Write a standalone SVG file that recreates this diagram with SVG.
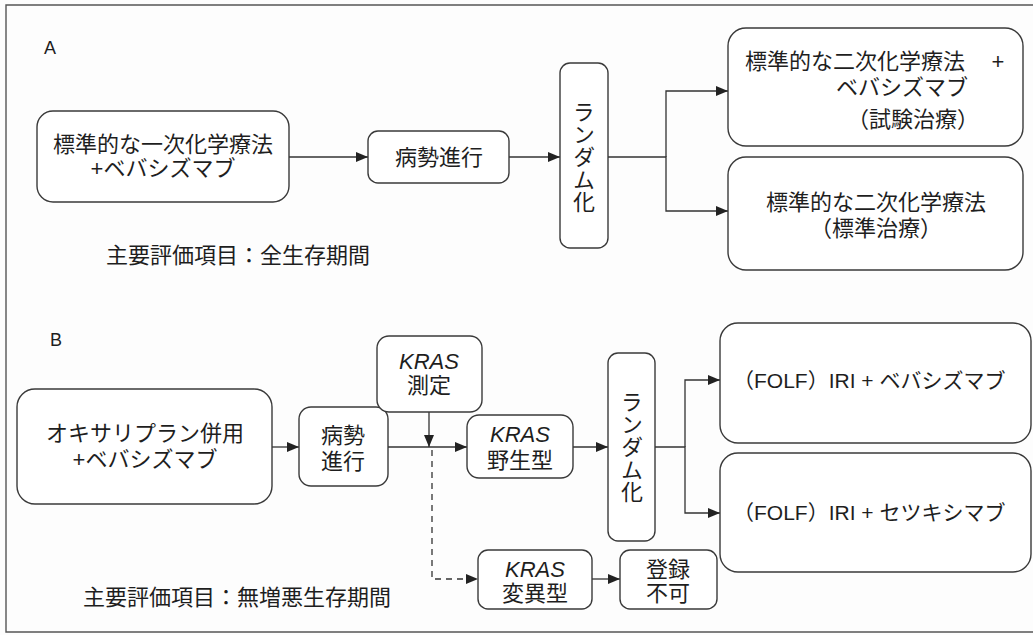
<svg xmlns="http://www.w3.org/2000/svg" width="1033" height="635" viewBox="0 0 1033 635">
<style>
.bg{fill:#fdfdfd}
.frame{fill:none;stroke:#555;stroke-width:1.4}
.box{fill:#fff;stroke:#3a3a3a;stroke-width:1.4}
.ln{fill:none;stroke:#333;stroke-width:1.3}
.dash{stroke-dasharray:6 5}
.t{font-family:"Liberation Sans","Noto Sans CJK JP",sans-serif;font-size:22px;fill:#1e1e1e;text-anchor:middle}
.v{font-family:"Noto Sans CJK JP",sans-serif;font-size:22px;fill:#1e1e1e;text-anchor:middle;writing-mode:vertical-rl;letter-spacing:0.6px}
.s{text-anchor:start}
.e{text-anchor:end}
.k{font-style:italic}
.lab{font-size:18px}
.f21{font-size:21px}
</style>
<defs>
<marker id="ah" viewBox="0 0 12 10" markerWidth="12" markerHeight="10" refX="12" refY="5" markerUnits="userSpaceOnUse" orient="auto">
<path d="M0,0 L12,5 L0,10 z" fill="#222"/>
</marker>
</defs>
<rect class="bg" x="0" y="0" width="1033" height="635"/>
<path class="frame" d="M1033,5 H6 V632 H1033"/>

<text class="t s lab" x="44" y="54">A</text>
<text class="t s lab" x="50" y="346">B</text>

<g id="connectors">
<path class="ln" d="M289,157 H368" marker-end="url(#ah)"/>
<path class="ln" d="M509,157 H560" marker-end="url(#ah)"/>
<path class="ln" d="M666,157 V91 H728" marker-end="url(#ah)"/>
<path class="ln" d="M608,157 H666 V211 H728" marker-end="url(#ah)"/>
<path class="ln" d="M272,447 H299" marker-end="url(#ah)"/>
<path class="ln" d="M388,447 H467" marker-end="url(#ah)"/>
<path class="ln" d="M429,412 V447" marker-end="url(#ah)"/>
<path class="ln dash" d="M432,450 V579 H478" marker-end="url(#ah)"/>
<path class="ln" d="M573,447 H608" marker-end="url(#ah)"/>
<path class="ln" d="M685,447 V380 H720" marker-end="url(#ah)"/>
<path class="ln" d="M655,447 H685 V513 H720" marker-end="url(#ah)"/>
<path class="ln" d="M592,579 H620" marker-end="url(#ah)"/>
</g>

<g id="a-first">
<rect class="box" x="37" y="111" width="252" height="91" rx="16"/>
<text class="t" x="163" y="152">標準的な一次化学療法</text>
<text class="t" x="163" y="176">+ベバシズマブ</text>
</g>
<g id="a-progress">
<rect class="box" x="368" y="131" width="141" height="52" rx="10"/>
<text class="t" x="439" y="165">病勢進行</text>
</g>
<g id="a-random">
<rect class="box" x="560" y="63" width="48" height="185" rx="10"/>
<text class="v" x="584" y="157">ランダム化</text>
</g>
<g id="a-test">
<rect class="box" x="728" y="28" width="295" height="118" rx="18"/>
<text class="t s" x="745" y="69">標準的な二次化学療法</text>
<text class="t" x="998" y="69">+</text>
<text class="t e" x="968" y="95">ベバシズマブ</text>
<text class="t e" x="979" y="127">（試験治療）</text>
</g>
<g id="a-standard">
<rect class="box" x="728" y="157" width="295" height="113" rx="18"/>
<text class="t" x="876" y="210">標準的な二次化学療法</text>
<text class="t" x="876" y="236">（標準治療）</text>
</g>
<g id="a-endpoint">
<text class="t s" x="106" y="263">主要評価項目：全生存期間</text>
</g>

<g id="b-first">
<rect class="box" x="17" y="389" width="255" height="115" rx="18"/>
<text class="t" x="145" y="441">オキサリプラン併用</text>
<text class="t" x="145" y="467">+ベバシズマブ</text>
</g>
<g id="b-progress">
<rect class="box" x="299" y="407" width="89" height="79" rx="12"/>
<text class="t" x="343" y="443">病勢</text>
<text class="t" x="343" y="469">進行</text>
</g>
<g id="b-measure">
<rect class="box" x="377" y="336" width="105" height="76" rx="12"/>
<text class="t k" x="429" y="369">KRAS</text>
<text class="t" x="429" y="393">測定</text>
</g>
<g id="b-wild">
<rect class="box" x="467" y="415" width="106" height="63" rx="12"/>
<text class="t k" x="520" y="442">KRAS</text>
<text class="t" x="520" y="468">野生型</text>
</g>
<g id="b-random">
<rect class="box" x="608" y="353" width="47" height="188" rx="10"/>
<text class="v" x="632" y="447">ランダム化</text>
</g>
<g id="b-bev">
<rect class="box" x="720" y="323" width="311" height="120" rx="18"/>
<text class="t s f21" x="733" y="388">（FOLF）IRI + ベバシズマブ</text>
</g>
<g id="b-cet">
<rect class="box" x="720" y="453" width="311" height="119" rx="18"/>
<text class="t s f21" x="733" y="520">（FOLF）IRI + セツキシマブ</text>
</g>
<g id="b-mutant">
<rect class="box" x="478" y="550" width="114" height="59" rx="10"/>
<text class="t k" x="535" y="577">KRAS</text>
<text class="t" x="535" y="601">変異型</text>
</g>
<g id="b-excluded">
<rect class="box" x="620" y="550" width="97" height="59" rx="10"/>
<text class="t" x="668" y="577">登録</text>
<text class="t" x="668" y="601">不可</text>
</g>
<g id="b-endpoint">
<text class="t s" x="83" y="605">主要評価項目：無増悪生存期間</text>
</g>
</svg>
